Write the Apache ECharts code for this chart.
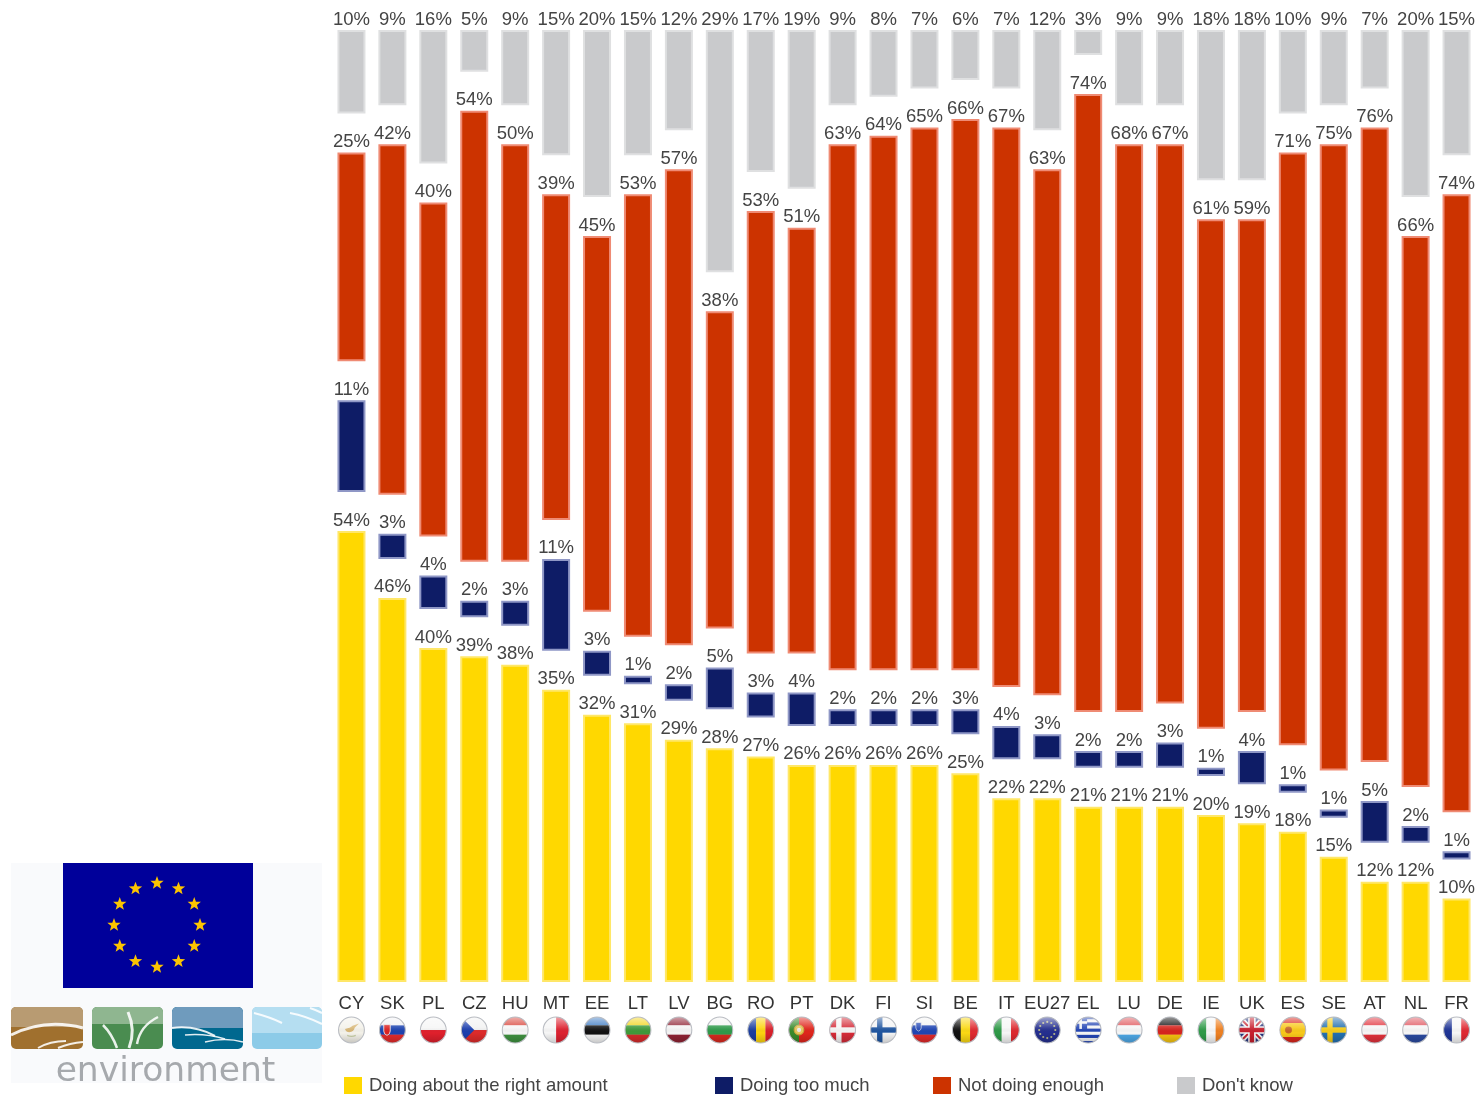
<!DOCTYPE html>
<html>
<head>
<meta charset="utf-8">
<style>html,body{margin:0;padding:0;background:#fff}#c{width:1477px;height:1095px}</style>
<script src="https://cdn.jsdelivr.net/npm/echarts@6/dist/echarts.min.js"></script>
</head>
<body>
<div id="c"></div>
<script>
const categories = ['CY','SK','PL','CZ','HU','MT','EE','LT','LV','BG','RO','PT','DK','FI','SI','BE','IT','EU27','EL','LU','DE','IE','UK','ES','SE','AT','NL','FR'];
const rightAmount = [54,46,40,39,38,35,32,31,29,28,27,26,26,26,26,25,22,22,21,21,21,20,19,18,15,12,12,10];
const tooMuch     = [11,3,4,2,3,11,3,1,2,5,3,4,2,2,2,3,4,3,2,2,3,1,4,1,1,5,2,1];
const notEnough   = [25,42,40,54,50,39,45,53,57,38,53,51,63,64,65,66,67,63,74,68,67,61,59,71,75,76,66,74];
const dontKnow    = [10,9,16,5,9,15,20,15,12,29,17,19,9,8,7,6,7,12,3,9,9,18,18,10,9,7,20,15];
const seriesNames = ['Doing about the right amount','Doing too much','Not doing enough',"Don't know"];
const GAP = 4.67;

// ---------- round flags for the axis labels ----------
const H = (...c) => c.map((col,i)=>`<rect x="0" y="${i*26/c.length}" width="26" height="${26/c.length+.2}" fill="${col}"/>`).join('');
const V = (...c) => c.map((col,i)=>`<rect y="0" x="${i*26/c.length}" height="26" width="${26/c.length+.2}" fill="${col}"/>`).join('');
const cross = (bg,fg) => `<rect width="26" height="26" fill="${bg}"/><rect x="7" y="0" width="5" height="26" fill="${fg}"/><rect x="0" y="10.5" width="26" height="5" fill="${fg}"/>`;
const euDots = () => { let s=''; for(let i=0;i<12;i++){const a=i*Math.PI/6; s+=`<circle cx="${13+7.5*Math.cos(a)}" cy="${13+7.5*Math.sin(a)}" r="1" fill="#b9b98a"/>`;} return s; };
const flagBodies = {
  CY: `<rect width="26" height="26" fill="#f4f2ea"/><path d="M7 12 Q12 11 14 9 L20 7 L16 11 Q15 15 11 15 Q8 15 7 12Z" fill="#d9b878"/><path d="M9 18 Q13 20 17 18" stroke="#c9cfa8" stroke-width="1.2" fill="none"/>`,
  SK: H('#f1f1f4','#1c43b0','#e32b2b')+`<path d="M5 8 h6 v6 q0 3-3 4 q-3-1-3-4z" fill="#d22" stroke="#eee" stroke-width=".8"/>`,
  PL: H('#f6f6f6','#e0202c'),
  CZ: H('#f2f2f2','#dd2b2b')+`<path d="M0 0 L13 13 L0 26Z" fill="#1c3fae"/>`,
  HU: H('#d9463c','#f6f6f6','#3f9140'),
  MT: V('#f6f6f6','#dd2230'),
  EE: H('#3f7cc4','#111','#f4f4f4'),
  LT: H('#f3d51f','#3f9a3a','#d52b2b'),
  LV: H('#8f2233','#f4f4f4','#8f2233'),
  BG: H('#f4f4f4','#2f9a4a','#d8291f'),
  RO: V('#1a3da0','#fdd40f','#d9202a'),
  PT: `<rect width="26" height="26" fill="#e0251c"/><rect width="10.5" height="26" fill="#3a8a2c"/><circle cx="10.5" cy="13" r="4.5" fill="#e7c75c" stroke="#c9a23a"/><circle cx="10.5" cy="13" r="2" fill="#eee"/>`,
  DK: cross('#d52b38','#f5f5f5'),
  FI: cross('#f4f4f4','#1f55a0'),
  SI: H('#f4f4f4','#1f45b3','#e12a2a')+`<path d="M5 6 h5 v5 q0 2-2.5 3 q-2.5-1-2.5-3z" fill="#2449b5" stroke="#eee" stroke-width=".6"/>`,
  BE: V('#111','#fbd914','#e02a30'),
  IT: V('#2f9a48','#f6f6f6','#dd2a30'),
  EU27: `<rect width="26" height="26" fill="#252f8f"/>`+euDots(),
  EL: `<rect width="26" height="26" fill="#2244b4"/>`+[3,8.8,14.6,20.4].map(y=>`<rect x="0" y="${y}" width="26" height="2.9" fill="#f4f4f4"/>`).join('')+`<rect width="12" height="12" fill="#2244b4"/><rect x="4.8" y="0" width="2.4" height="12" fill="#f4f4f4"/><rect x="0" y="4.8" width="12" height="2.4" fill="#f4f4f4"/>`,
  LU: H('#e0555a','#f6f6f6','#4ea8e6'),
  DE: H('#111','#d6241e','#f6c40f'),
  IE: V('#2f9a48','#f6f6f6','#ef8122'),
  UK: `<rect width="26" height="26" fill="#27367f"/><path d="M0 0L26 26M26 0L0 26" stroke="#f2f2f2" stroke-width="5"/><path d="M0 0L26 26M26 0L0 26" stroke="#c8202e" stroke-width="1.8"/><path d="M13 0V26M0 13H26" stroke="#f2f2f2" stroke-width="7"/><path d="M13 0V26M0 13H26" stroke="#c8202e" stroke-width="4"/>`,
  ES: `<rect width="26" height="26" fill="#d9261c"/><rect y="6.5" width="26" height="13" fill="#f8c91a"/><circle cx="9" cy="13" r="3.2" fill="#c8662a"/>`,
  SE: cross('#2470b0','#f6cc17'),
  AT: H('#e2323c','#f6f6f6','#e2323c'),
  NL: H('#e0555f','#f6f6f6','#2a4aa0'),
  FR: V('#1f3596','#f6f6f6','#e02a33')
};
function flagUri(code){
  const svg = `<svg xmlns="http://www.w3.org/2000/svg" width="104" height="104" viewBox="0 0 26 26">
<defs><clipPath id="k"><circle cx="13" cy="13" r="12"/></clipPath>
<linearGradient id="g" x1="0" y1="0" x2="0" y2="1"><stop offset="0" stop-color="#fff" stop-opacity=".62"/><stop offset=".42" stop-color="#fff" stop-opacity=".1"/><stop offset=".6" stop-color="#000" stop-opacity="0"/><stop offset="1" stop-color="#000" stop-opacity=".2"/></linearGradient></defs>
<g clip-path="url(#k)">${flagBodies[code]}<rect width="26" height="26" fill="url(#g)"/></g>
<circle cx="13" cy="13" r="12" fill="none" stroke="#b9bcc2" stroke-width="1"/></svg>`;
  return 'data:image/svg+xml;charset=utf-8,' + encodeURIComponent(svg);
}
const rich = { code: { fontSize: 18.5, lineHeight: 24, color: '#333', fontFamily: 'Liberation Sans', align:'center' } };
categories.forEach(c => { rich['f_'+c] = { width: 28, height: 28, lineHeight: 28, align:'center', backgroundColor: { image: flagUri(c) } }; });

// ---------- series ----------
const styles = [
  { color:'#ffd800', borderColor:'#ffe768' },
  { color:'#0e1c66', borderColor:'#8f97c6' },
  { color:'#cc3300', borderColor:'#ef8b74' },
  { color:'#c9cacc', borderColor:'#dfe0e1' }
];
const values = [rightAmount, tooMuch, notEnough, dontKnow];
const series = [];
values.forEach((vals,i) => {
  series.push({
    name: seriesNames[i], type:'bar', stack:'s', barWidth: 28, data: vals,
    itemStyle: { color: styles[i].color, borderColor: styles[i].borderColor, borderWidth: 2 },
    label: { show:true, position:'top', distance:1, formatter:'{c}%', fontSize:18.5, color:'#444', fontFamily:'Liberation Sans' },
    emphasis: { disabled:true }
  });
  if (i < 3) series.push({
    name: 'gap'+i, type:'bar', stack:'s', barWidth: 28, silent:true,
    data: categories.map(()=>GAP), itemStyle:{ color:'transparent', borderWidth:0 }, label:{show:false}
  });
});

// ---------- decorative logo ----------
const stars = [];
for (let i=0;i<12;i++){
  const a = i*Math.PI/6, cx = 157+43*Math.sin(a), cy = 925-42*Math.cos(a), pts=[];
  for (let j=0;j<10;j++){ const r = j%2?2.9:7, b=j*Math.PI/5; pts.push([cx+r*Math.sin(b), cy-r*Math.cos(b)]); }
  stars.push({ type:'polygon', shape:{points:pts}, style:{fill:'#fcc400'}, silent:true });
}
const tile = (x,w,top,bottom,split,swoosh) => [
  { type:'rect', shape:{x:x,y:1007,width:w,height:42,r:5}, style:{fill:bottom}, silent:true },
  { type:'rect', shape:{x:x,y:1007,width:w,height:split,r:[5,5,0,0]}, style:{fill:top}, silent:true },
  ...swoosh.map(s=>({ type:'bezierCurve', shape:{x1:s[0],y1:s[1],cpx1:s[2],cpy1:s[3],x2:s[4],y2:s[5]}, style:{stroke:'#fff',lineWidth:s[6],opacity:.88,fill:null}, silent:true }))
];
const logo = [
  { type:'rect', shape:{x:11,y:863,width:311,height:220}, style:{fill:'#f9fafc'}, silent:true },
  { type:'rect', shape:{x:63,y:863,width:190,height:125}, style:{fill:'#00009a'}, silent:true },
  ...stars,
  ...tile(11,72,'#b89b72','#a0702e',20,[[11,1035,45,1018,83,1028,3],[38,1048,50,1041,66,1041,2],[58,1048,70,1043,83,1042,2]]),
  ...tile(92,71,'#8fb690','#4a8c50',17,[[103,1025,112,1034,117,1048,2.5],[128,1012,136,1030,129,1048,3],[158,1017,140,1026,137,1044,2.5]]),
  ...tile(172,71,'#6f9bbd','#00688f',21,[[172,1028,195,1025,215,1036,2],[185,1035,205,1033,225,1039,1.5],[205,1042,225,1037,243,1042,1.5]]),
  ...tile(252,70,'#b5def1','#8ccbe8',26,[[254,1013,270,1017,282,1023,2],[290,1013,306,1016,322,1024,2],[310,1008,316,1010,322,1013,2]]),
  { type:'text', x:165.5, y:1072, silent:true, style:{ text:'environment', fill:'#a6a9ad', font:'34.5px "DejaVu Sans"', align:'center', verticalAlign:'middle' } }
];

// ---------- legends ----------
const legendX = [344,715,933,1177];
const legend = seriesNames.map((n,i)=>({
  data:[n], left:legendX[i], top:1076, orient:'horizontal', itemWidth:18, itemHeight:17, icon:'rect', selectedMode:false,
  itemStyle:{ borderWidth:0 }, padding:0,
  textStyle:{ fontSize:18.5, color:'#444', fontFamily:'Liberation Sans', padding:[2,0,0,2] }
}));

const chart = echarts.init(document.getElementById('c'), null, { renderer:'canvas', width:1477, height:1095 });
chart.setOption({
  animation:false,
  backgroundColor:'#ffffff',
  textStyle:{ fontFamily:'Liberation Sans' },
  grid:{ left:331, top:30, width:1146, height:952, containLabel:false },
  xAxis:{ type:'category', data:categories, axisLine:{show:false}, axisTick:{show:false},
    axisLabel:{ interval:0, margin:10, formatter:v=>`{code|${v}}\n{f_${v}|}`, rich:rich } },
  yAxis:{ type:'value', min:0, max:100+3*GAP, show:false, splitLine:{show:false} },
  legend:legend,
  graphic:logo,
  series:series
});
</script>
</body>
</html>
